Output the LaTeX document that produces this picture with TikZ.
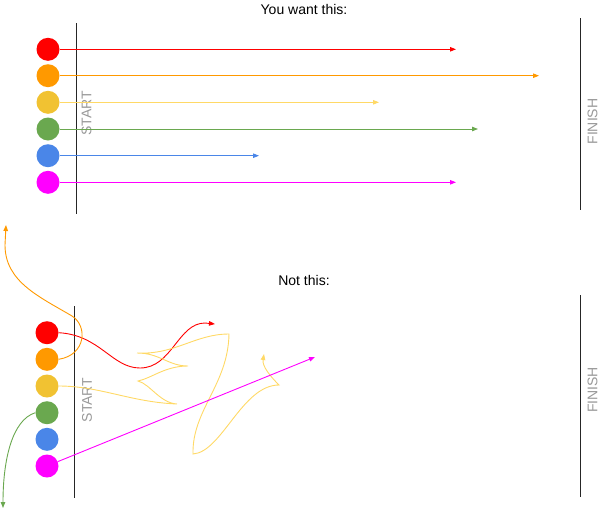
\documentclass[tikz,border=0pt]{standalone}
\usepackage{fontspec}
\setmainfont{Liberation Sans}
\usepackage{xcolor}
\usetikzlibrary{arrows.meta}

\definecolor{runred}{HTML}{FF0000}
\definecolor{runorange}{HTML}{FF9900}
\definecolor{runyellow}{HTML}{F1C232}
\definecolor{lineyellow}{HTML}{FFD966}
\definecolor{rungreen}{HTML}{6AA84F}
\definecolor{runblue}{HTML}{4A86E8}
\definecolor{runmagenta}{HTML}{FF00FF}

\begin{document}
\begin{tikzpicture}[
  x=1pt, y=-1pt,
  dot/.style={circle, minimum size=23pt, inner sep=0pt},
  bar/.style={line width=1pt, black!85},
  gatelabel/.style={font=\fontsize{14}{16}\selectfont, text=black!40, rotate=90, inner sep=1pt},
  titlelabel/.style={font=\fontsize{14}{16}\selectfont},
  run/.style={-{Triangle[length=6pt, width=4.5pt]}, line width=0.9pt}
]
  \useasboundingbox (0,0) rectangle (599,509);

  % good case
  \node[titlelabel] (wanttitle) at (304,9) {You want this:};
  \draw[bar] (76,23) -- (76,214);
  \draw[bar] (580.5,18) -- (580.5,210);
  \node[gatelabel] (start1) at (86.5,113.5) {START};
  \node[gatelabel] (finish1) at (592.5,121.5) {FINISH};

  \foreach \i/\c/\lc/\y/\x in {1/runred/runred/49.3/456, 2/runorange/runorange/75.7/539,
      3/runyellow/lineyellow/102.3/379, 4/rungreen/rungreen/129/478,
      5/runblue/runblue/155.7/259, 6/runmagenta/runmagenta/182.3/456}{
    \node[dot, fill=\c] (t\i) at (48,\y) {};
    \coordinate (te\i) at (\x,\y);
    \draw[run, \lc] (t\i) -- (te\i);
  }

  % bad case
  \node[titlelabel] (nottitle) at (304,280) {Not this:};
  \draw[bar] (74,306) -- (74,498);
  \draw[bar] (580.5,295) -- (580.5,497);
  \node[gatelabel] (start2) at (87,400) {START};
  \node[gatelabel] (finish2) at (592.5,390) {FINISH};

  \foreach \i/\c/\y in {1/runred/332.7, 2/runorange/359.3, 3/runyellow/386,
      4/rungreen/412.7, 5/runblue/439.3, 6/runmagenta/466}{
    \node[dot, fill=\c] (b\i) at (47,\y) {};
  }

  \coordinate (be1) at (215,324);
  \coordinate (be2) at (6,225);
  \coordinate (be3) at (264,354);
  \coordinate (be4) at (3,508);
  \coordinate (be6) at (315,357);

  \draw[run, runred] (b1.east) .. controls (100,335) and (112,368) .. (140,368)
    .. controls (172,368) and (178,323) .. (205,323) -- (be1);
  \draw[run, runorange] (b2.east) .. controls (86,355) and (88,326) .. (72,316)
    .. controls (40,297) and (5,282) .. (5,245) -- (be2);
  \draw[run, lineyellow] (b3.east) .. controls (100,386) and (130,402) .. (177,404)
    .. controls (160,403) and (150,384) .. (138,381)
    .. controls (152,378) and (165,366) .. (188,366)
    .. controls (168,366) and (160,353) .. (137,353)
    .. controls (175,355) and (195,334) .. (229,334)
    .. controls (228,385) and (192,410) .. (193,454)
    .. controls (222,452) and (242,385) .. (279,385)
    .. controls (270,376) and (262,366) .. (be3);
  \draw[run, rungreen] (b4.west) .. controls (12,420) and (3,460) .. (be4);
  \draw[run, runmagenta] (b6) -- (be6);
\end{tikzpicture}
\end{document}
